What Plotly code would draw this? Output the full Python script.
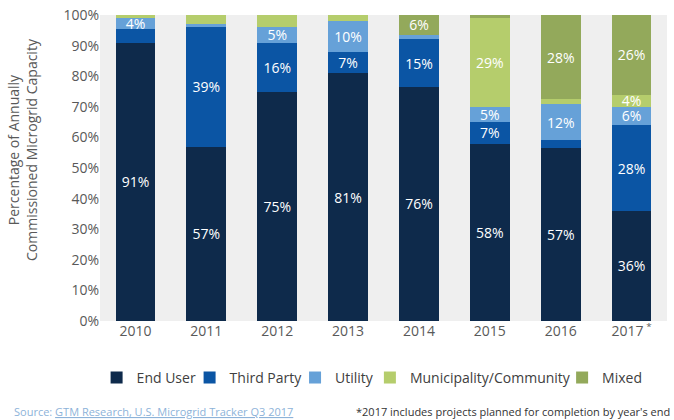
import plotly.graph_objects as go

years = ["2010", "2011", "2012", "2013", "2014", "2015", "2016", "2017"]
year_labels = ["2010", "2011", "2012", "2013", "2014", "2015", "2016", "2017<sup> *</sup>"]

end_user = [91, 57, 75, 81, 76.5, 58, 56.5, 36]
third_party = [4.5, 39, 16, 7, 15.5, 7, 2.5, 28]
utility = [3.5, 1, 5, 10, 1.5, 5, 12, 6]
municipality = [1, 3, 4, 2, 0, 29, 1.5, 4]
mixed = [0, 0, 0, 0, 6.5, 1, 27.5, 26]

end_user_lbl = ["91%", "57%", "75%", "81%", "76%", "58%", "57%", "36%"]
third_party_lbl = ["", "39%", "16%", "7%", "15%", "7%", "", "28%"]
utility_lbl = ["4%", "", "5%", "10%", "", "5%", "12%", "6%"]
municipality_lbl = ["", "", "", "", "", "29%", "", "4%"]
mixed_lbl = ["", "", "", "", "6%", "", "28%", "26%"]

series = [
    ("End User", end_user, end_user_lbl, "#0e2a4b"),
    ("Third Party", third_party, third_party_lbl, "#0b55a4"),
    ("Utility", utility, utility_lbl, "#66a1d8"),
    ("Municipality/Community", municipality, municipality_lbl, "#b5cd6c"),
    ("Mixed", mixed, mixed_lbl, "#93a95b"),
]

# one legend per item so the row can be spaced like the original
legend_x = [-0.006, 0.158, 0.344, 0.476, 0.815]
legend_names = ["legend", "legend2", "legend3", "legend4", "legend5"]

fig = go.Figure()
for (name, vals, lbls, color), lg in zip(series, legend_names):
    fig.add_trace(
        go.Bar(
            x=years,
            y=vals,
            name=name,
            legend=lg,
            text=lbls,
            textposition="inside",
            insidetextanchor="middle",
            textangle=0,
            textfont=dict(color="white", size=14),
            marker=dict(color=color, line=dict(width=0)),
            constraintext="none",
        )
    )

legend_style = dict(
    orientation="h",
    xanchor="left",
    y=-0.186,
    yanchor="middle",
    font=dict(size=14, color="#404040"),
    itemwidth=30,
    bgcolor="rgba(0,0,0,0)",
)

fig.update_layout(
    barmode="stack",
    bargap=0.44,
    width=674,
    height=420,
    margin=dict(l=100, r=7, t=15, b=99, autoexpand=False),
    paper_bgcolor="white",
    plot_bgcolor="#efefef",
    font=dict(family="Open Sans, Noto Sans, sans-serif", color="#595959", size=14),
    uniformtext=dict(minsize=8, mode="show"),
    showlegend=True,
    xaxis=dict(
        tickvals=years,
        ticktext=year_labels,
        showgrid=False,
        ticks="",
        tickfont=dict(size=14, color="#595959"),
    ),
    yaxis=dict(
        range=[0, 100],
        dtick=10,
        ticksuffix="%",
        showgrid=False,
        zeroline=False,
        tickfont=dict(size=14, color="#595959"),
    ),
)
for lg, lx in zip(legend_names, legend_x):
    fig.update_layout({lg: dict(legend_style, x=lx)})

# y-axis title sits a little above the axis middle in the original
fig.add_annotation(
    text="Percentage of Annually<br>Commissioned Microgrid Capacity",
    xref="paper", yref="paper", x=-0.137, y=0.56,
    xanchor="center", yanchor="middle", textangle=-90, showarrow=False,
    font=dict(size=14, color="#595959"),
)
fig.add_annotation(
    text="Source: <u>GTM Research, U.S. Microgrid Tracker Q3 2017</u>",
    xref="paper", yref="paper", x=-0.155, y=-0.265,
    xanchor="left", yanchor="top", showarrow=False,
    font=dict(size=11, color="#8db3d9"),
)
fig.add_annotation(
    text="*2017 includes projects planned for completion by year's end",
    xref="paper", yref="paper", x=1.008, y=-0.265,
    xanchor="right", yanchor="top", showarrow=False,
    font=dict(size=11, color="#333333"),
)

# drop the browser's default 8px page margin, no modebar
fig.write_html(
    "out.html",
    config={"displayModeBar": False},
    post_script="document.body.style.margin='0';",
)
